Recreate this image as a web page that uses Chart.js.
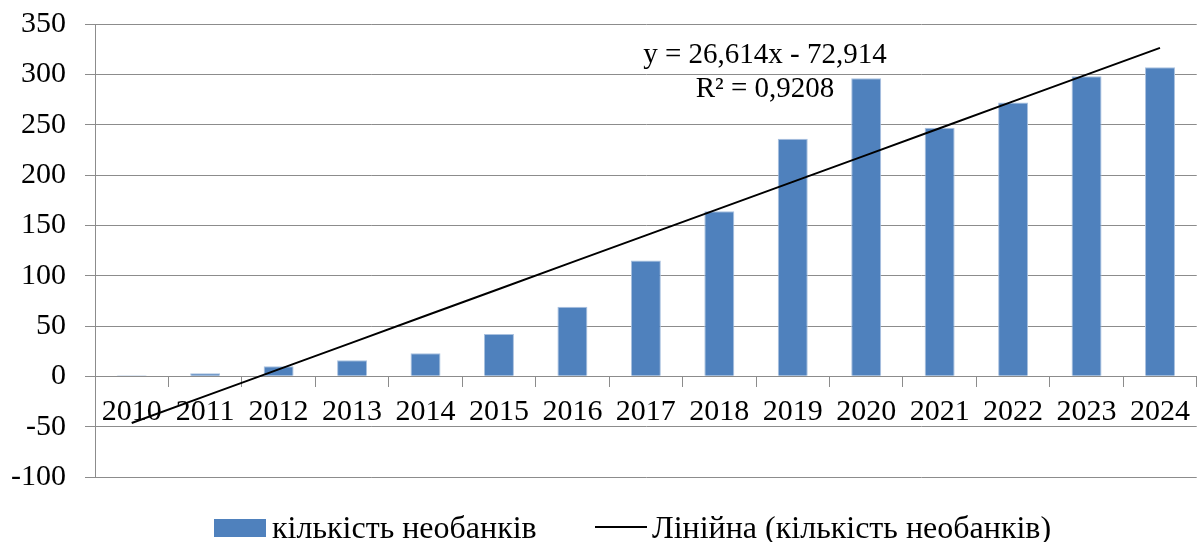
<!DOCTYPE html>
<html>
<head>
<meta charset="utf-8">
<script src="https://cdn.jsdelivr.net/npm/chart.js@4/dist/chart.umd.min.js"></script>
<style>
  html, body { margin: 0; padding: 0; background: #ffffff; }
  #wrap { width: 1198px; height: 542px; }
</style>
</head>
<body>
<div id="wrap"><canvas id="neobankChart" width="1198" height="542"></canvas></div>
<script>
// Data
const years = ['2010', '2011', '2012', '2013', '2014', '2015', '2016', '2017',
               '2018', '2019', '2020', '2021', '2022', '2023', '2024'];
const neobankCount = [1, 3, 10, 16, 23, 42, 69, 115, 164, 236, 296, 247, 272, 298, 307];
// linear trend values as drawn (y = 26,614x - 72,914)
const trendValues = [-46.3, -19.7, 6.9, 33.5, 60.2, 86.8, 113.4, 140.0,
                     166.6, 193.2, 219.8, 246.5, 273.1, 299.7, 326.3];
const yTicks = [-100, -50, 0, 50, 100, 150, 200, 250, 300, 350];

const barLabel = 'кількість необанків';
const trendLabel = 'Лінійна (кількість необанків)';
const trendEquation = 'y = 26,614x - 72,914';
const trendR2 = 'R² = 0,9208';

const FONT = '"Liberation Serif", "Times New Roman", serif';
const GRID = '#8c8c8c';
const BAR_COLOR = '#4f81bd';

// equation text above the trend line
const equationPlugin = {
    id: 'equationText',
    afterDatasetsDraw(chart) {
        const ctx = chart.ctx;
        ctx.save();
        ctx.font = '29px ' + FONT;
        ctx.fillStyle = '#000';
        ctx.textAlign = 'center';
        ctx.textBaseline = 'alphabetic';
        ctx.fillText(trendEquation, 765, 63);
        ctx.fillText(trendR2, 765, 97);
        ctx.restore();
    }
};

// legend drawn by hand so the box/text spacing matches the Excel look
const legendPlugin = {
    id: 'excelLegend',
    afterDraw(chart) {
        const ctx = chart.ctx;
        const ds = chart.data.datasets;
        ctx.save();
        ctx.font = '32px ' + FONT;
        ctx.textBaseline = 'alphabetic';

        // bar series marker
        ctx.fillStyle = ds[0].backgroundColor;
        ctx.fillRect(214, 519, 52, 18);
        ctx.fillStyle = '#000';
        ctx.fillText(ds[0].label, 272, 538);

        // trend line marker
        ctx.strokeStyle = ds[1].borderColor;
        ctx.lineWidth = 2;
        ctx.beginPath();
        ctx.moveTo(595, 527);
        ctx.lineTo(647, 527);
        ctx.stroke();
        ctx.fillText(ds[1].label, 652, 538);
        ctx.restore();
    }
};

new Chart(document.getElementById('neobankChart'), {
    data: {
        labels: years,
        datasets: [
            {
                type: 'bar',
                label: barLabel,
                data: neobankCount,
                backgroundColor: BAR_COLOR,
                borderColor: '#a9c1df',
                borderWidth: 1,
                categoryPercentage: 0.8,
                barPercentage: 0.51,
                order: 2
            },
            {
                type: 'line',
                label: trendLabel,
                data: trendValues,
                borderColor: '#000',
                backgroundColor: '#000',
                borderWidth: 2,
                pointRadius: 0,
                tension: 0,
                order: 1
            }
        ]
    },
    options: {
        responsive: false,
        animation: false,
        layout: { padding: { top: 24, right: 0, bottom: 65, left: 0 } },
        plugins: {
            tooltip: { enabled: false },
            legend: { display: false }
        },
        scales: {
            x: {
                position: { y: 0 },
                grid: {
                    offset: true,
                    drawOnChartArea: false,
                    drawTicks: true,
                    tickLength: 10,
                    color: GRID
                },
                border: { color: GRID, width: 1 },
                ticks: {
                    color: '#000',
                    font: { family: FONT, size: 30 },
                    padding: 8,
                    maxRotation: 0,
                    autoSkip: false
                }
            },
            y: {
                min: -100,
                max: 350,
                afterBuildTicks(scale) {
                    scale.ticks = yTicks.map(v => ({ value: v }));
                },
                afterFit(scale) { scale.width = 95; },
                grid: { color: GRID, tickLength: 10 },
                border: { color: GRID, width: 1 },
                ticks: {
                    color: '#000',
                    // small lineHeight keeps the label overhang from pushing the plot down
                    font: { family: FONT, size: 30, lineHeight: 0.3 },
                    padding: 19
                }
            }
        }
    },
    plugins: [equationPlugin, legendPlugin]
});
</script>
</body>
</html>
